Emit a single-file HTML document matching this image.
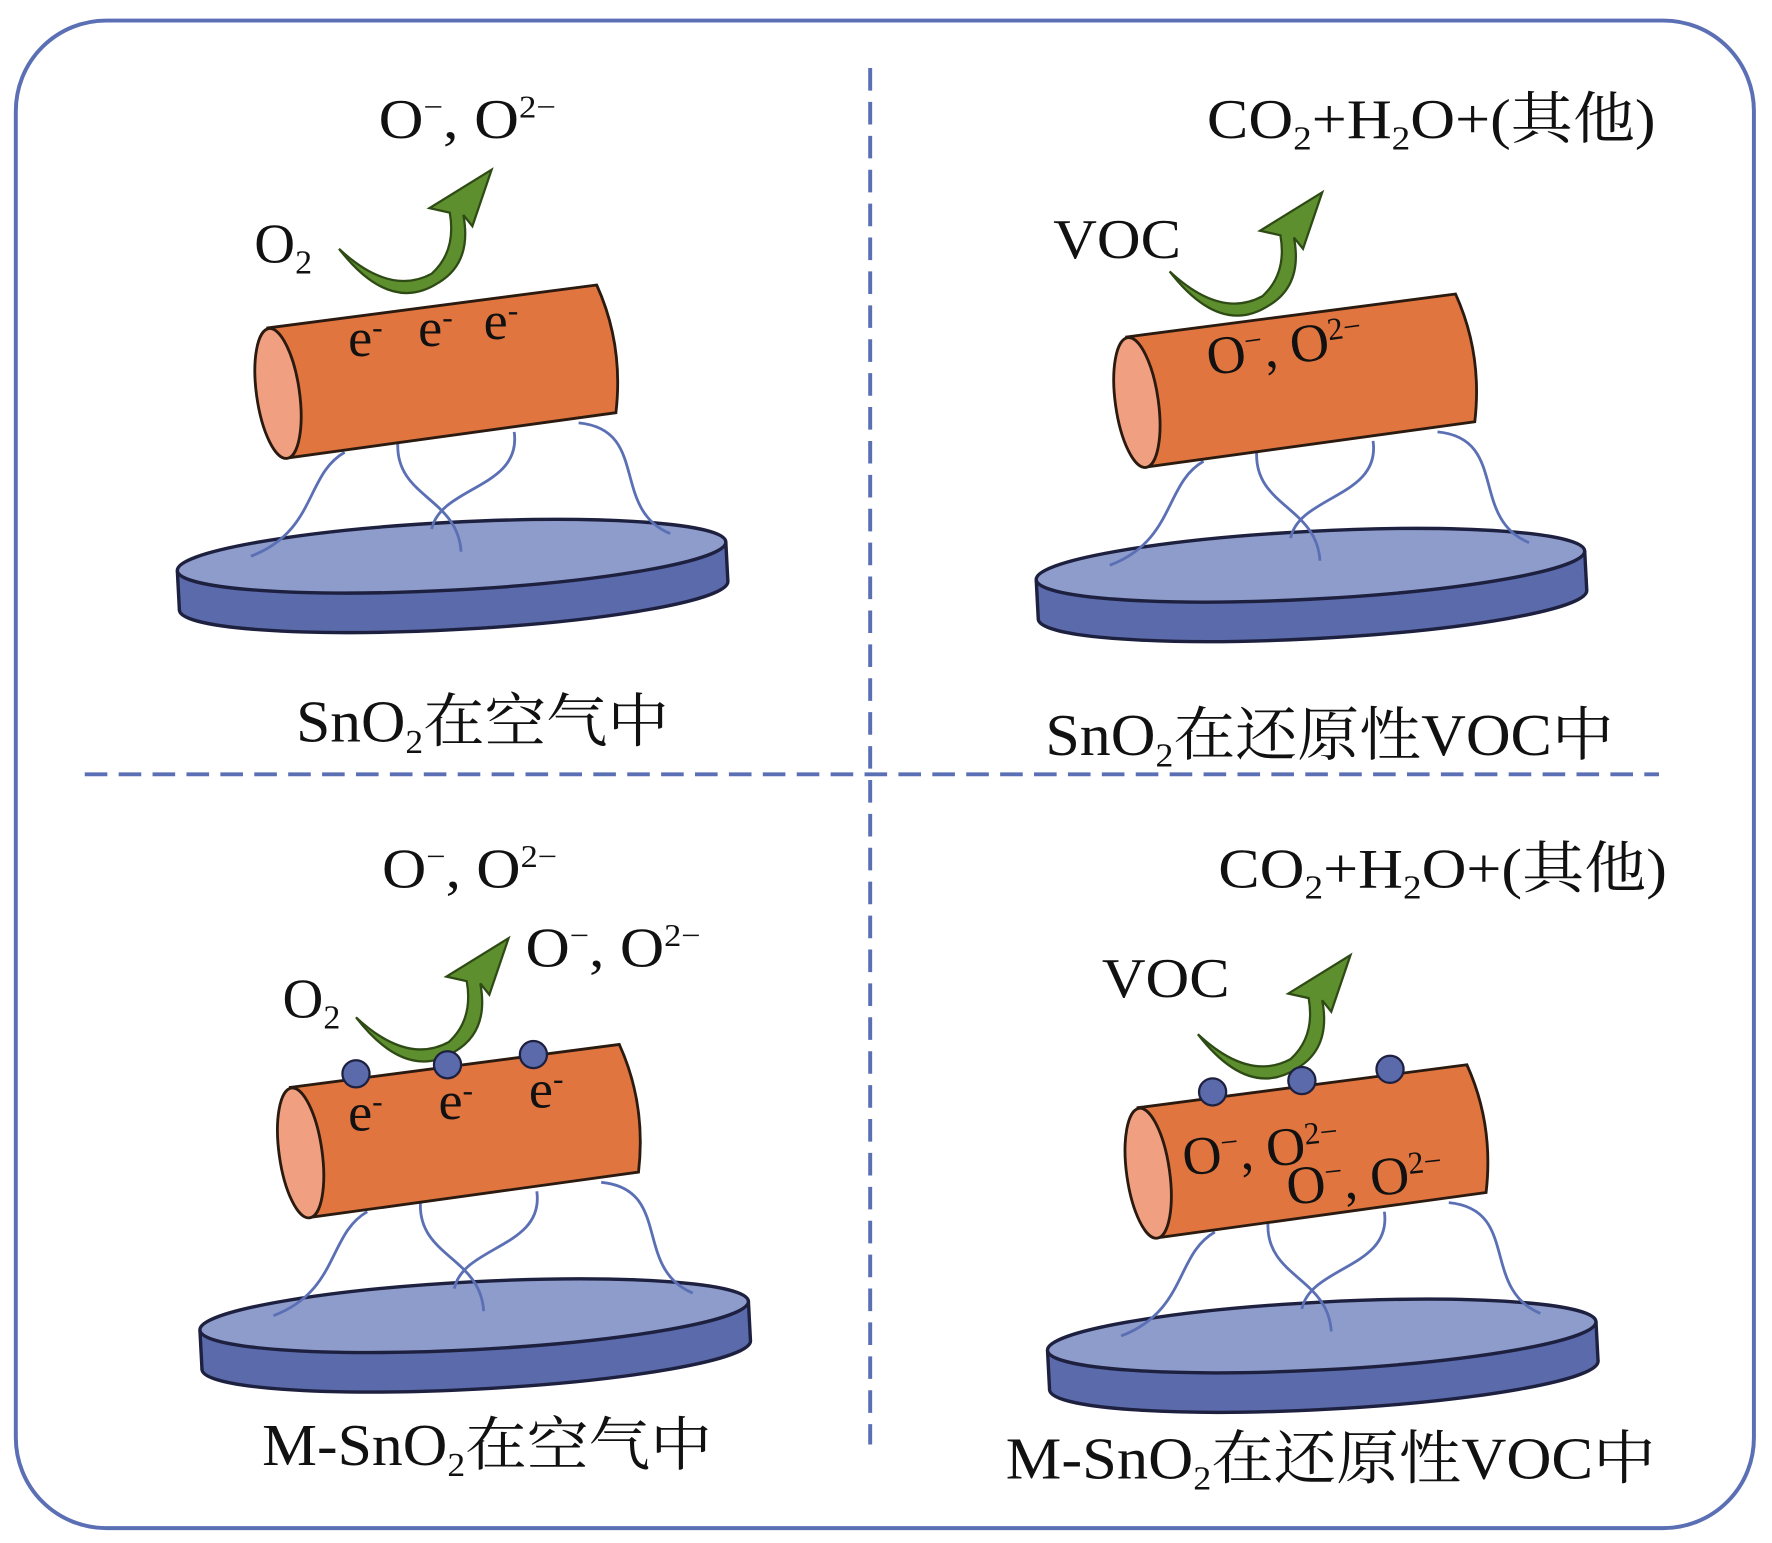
<!DOCTYPE html>
<html><head><meta charset="utf-8"><style>
html,body{margin:0;padding:0;background:#fff;}
svg{display:block;}
text{font-family:"Liberation Serif","Noto Serif CJK SC","Noto Sans CJK SC",serif;fill:#111;}
</style></head><body>
<svg width="1772" height="1543" viewBox="0 0 1568 1365" xmlns="http://www.w3.org/2000/svg">
<defs>
<g id="base">
  <g transform="rotate(-3 400 500)">
    <ellipse cx="400" cy="527" rx="243" ry="30" fill="#5a6aaa" stroke="#1e2040" stroke-width="3"/>
    <rect x="157" y="492" width="486" height="35" fill="#5a6aaa"/>
    <line x1="157" y1="492" x2="157" y2="527" stroke="#1e2040" stroke-width="3"/>
    <line x1="643" y1="492" x2="643" y2="527" stroke="#1e2040" stroke-width="3"/>
    <ellipse cx="400" cy="492" rx="243" ry="30" fill="#8e9ccb" stroke="#1e2040" stroke-width="3"/>
  </g>
  <g fill="none" stroke="#5b6fb5" stroke-width="2.5">
    <path d="M305,400 C270,420 280,470 222,492"/>
    <path d="M352,392 C350,440 405,440 408,488"/>
    <path d="M455,382 C462,432 390,430 382,468"/>
    <path d="M512,374 C575,380 540,450 593,472"/>
  </g>
  <path d="M237,290 L528,252 Q552,305 545,365 L255,405 Z" fill="#e07540" stroke="#2a1a10" stroke-width="2.5"/>
  <ellipse cx="246" cy="348" rx="19" ry="58" transform="rotate(-8 246 348)" fill="#f0a080" stroke="#2a1a10" stroke-width="2.5"/>
</g>
<path id="arr" d="M300,220 Q345,262 382,242 Q404,222 398,188 L380,184 L435,150 L418,200 L410,190 Q418,232 388,250 Q345,278 300,220 Z" fill="#5e8f2e" stroke="#2e4a15" stroke-width="2"/>
</defs>

<rect x="14" y="18" width="1538" height="1334" rx="80" ry="80" fill="none" stroke="#5b6fb5" stroke-width="3.5"/>
<line x1="770" y1="60" x2="770" y2="1278" stroke="#5b6fb5" stroke-width="3.5" stroke-dasharray="20,10"/>
<line x1="75" y1="685" x2="1468" y2="685" stroke="#5b6fb5" stroke-width="3.5" stroke-dasharray="20,10"/>

<!-- Panel 1 -->
<use href="#base"/>
<use href="#arr"/>
<text x="335" y="122" font-size="50" textLength="157" lengthAdjust="spacingAndGlyphs">O<tspan dy="-18" font-size="28">−</tspan><tspan dy="18">, O</tspan><tspan dy="-18" font-size="28">2−</tspan></text>
<text x="225" y="232" font-size="50">O<tspan dy="10" font-size="30">2</tspan></text>
<text x="308" y="315" font-size="48">e<tspan dy="-16" font-size="28">-</tspan></text>
<text x="370" y="306" font-size="48">e<tspan dy="-16" font-size="28">-</tspan></text>
<text x="428" y="300" font-size="48">e<tspan dy="-16" font-size="28">-</tspan></text>
<text x="262" y="656" font-size="52" textLength="330" lengthAdjust="spacingAndGlyphs">SnO<tspan dy="10" font-size="30">2</tspan><tspan dy="-10">在空气中</tspan></text>

<!-- Panel 2 -->
<use href="#base" transform="translate(760,8)"/>
<use href="#arr" transform="translate(735,20)"/>
<text x="1068" y="122" font-size="50" textLength="397" lengthAdjust="spacingAndGlyphs">CO<tspan dy="10" font-size="30">2</tspan><tspan dy="-10">+H</tspan><tspan dy="10" font-size="30">2</tspan><tspan dy="-10">O+(其他)</tspan></text>
<text x="932" y="228" font-size="50" textLength="113" lengthAdjust="spacingAndGlyphs">VOC</text>
<text x="1070" y="332" font-size="48" transform="rotate(-8 1070 332)">O<tspan dy="-16" font-size="28">−</tspan><tspan dy="16">, O</tspan><tspan dy="-16" font-size="28">2−</tspan></text>
<text x="925" y="668" font-size="52" textLength="503" lengthAdjust="spacingAndGlyphs">SnO<tspan dy="10" font-size="30">2</tspan><tspan dy="-10">在还原性VOC中</tspan></text>

<!-- Panel 3 -->
<use href="#base" transform="translate(20,672)"/>
<use href="#arr" transform="translate(15,680)"/>
<circle cx="315" cy="950" r="12" fill="#5a6aaa" stroke="#1e2040" stroke-width="2"/>
<circle cx="396" cy="942" r="12" fill="#5a6aaa" stroke="#1e2040" stroke-width="2"/>
<circle cx="472" cy="933" r="12" fill="#5a6aaa" stroke="#1e2040" stroke-width="2"/>
<text x="338" y="785" font-size="50" textLength="155" lengthAdjust="spacingAndGlyphs">O<tspan dy="-18" font-size="28">−</tspan><tspan dy="18">, O</tspan><tspan dy="-18" font-size="28">2−</tspan></text>
<text x="465" y="855" font-size="50" textLength="155" lengthAdjust="spacingAndGlyphs">O<tspan dy="-18" font-size="28">−</tspan><tspan dy="18">, O</tspan><tspan dy="-18" font-size="28">2−</tspan></text>
<text x="250" y="900" font-size="50">O<tspan dy="10" font-size="30">2</tspan></text>
<text x="308" y="1000" font-size="48">e<tspan dy="-16" font-size="28">-</tspan></text>
<text x="388" y="990" font-size="48">e<tspan dy="-16" font-size="28">-</tspan></text>
<text x="468" y="980" font-size="48">e<tspan dy="-16" font-size="28">-</tspan></text>
<text x="232" y="1296" font-size="52" textLength="398" lengthAdjust="spacingAndGlyphs">M-SnO<tspan dy="10" font-size="30">2</tspan><tspan dy="-10">在空气中</tspan></text>

<!-- Panel 4 -->
<use href="#base" transform="translate(770,690)"/>
<use href="#arr" transform="translate(760,695)"/>
<circle cx="1073" cy="966" r="12" fill="#5a6aaa" stroke="#1e2040" stroke-width="2"/>
<circle cx="1152" cy="956" r="12" fill="#5a6aaa" stroke="#1e2040" stroke-width="2"/>
<circle cx="1230" cy="946" r="12" fill="#5a6aaa" stroke="#1e2040" stroke-width="2"/>
<text x="1078" y="785" font-size="50" textLength="397" lengthAdjust="spacingAndGlyphs">CO<tspan dy="10" font-size="30">2</tspan><tspan dy="-10">+H</tspan><tspan dy="10" font-size="30">2</tspan><tspan dy="-10">O+(其他)</tspan></text>
<text x="975" y="882" font-size="50" textLength="113" lengthAdjust="spacingAndGlyphs">VOC</text>
<text x="1048" y="1040" font-size="48" transform="rotate(-6 1048 1040)">O<tspan dy="-16" font-size="28">−</tspan><tspan dy="16">, O</tspan><tspan dy="-16" font-size="28">2−</tspan></text>
<text x="1140" y="1066" font-size="48" transform="rotate(-6 1140 1066)">O<tspan dy="-16" font-size="28">−</tspan><tspan dy="16">, O</tspan><tspan dy="-16" font-size="28">2−</tspan></text>
<text x="890" y="1308" font-size="52" textLength="575" lengthAdjust="spacingAndGlyphs">M-SnO<tspan dy="10" font-size="30">2</tspan><tspan dy="-10">在还原性VOC中</tspan></text>
</svg>
</body></html>
